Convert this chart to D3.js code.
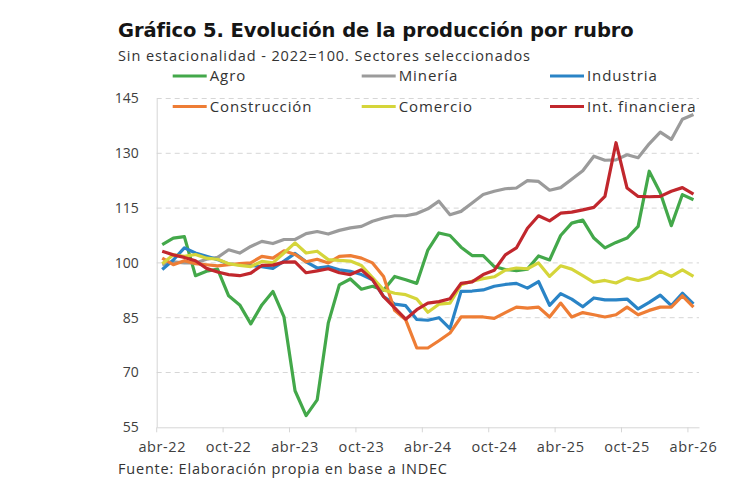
<!DOCTYPE html>
<html>
<head>
<meta charset="utf-8">
<script src="https://cdn.jsdelivr.net/npm/d3@7"></script>
<title>Gráfico 5</title>
<style>
  body { margin: 0; background: #fff; }
  text { font-family: "Open Sans", "Noto Sans", sans-serif; }
</style>
</head>
<body>
<div id="container"></div>
<script>
// meses (abr-22 .. abr-26)
var months = [
  "abr-22","may-22","jun-22","jul-22","ago-22","sep-22","oct-22","nov-22","dic-22",
  "ene-23","feb-23","mar-23","abr-23","may-23","jun-23","jul-23","ago-23","sep-23",
  "oct-23","nov-23","dic-23","ene-24","feb-24","mar-24","abr-24","may-24","jun-24",
  "jul-24","ago-24","sep-24","oct-24","nov-24","dic-24","ene-25","feb-25","mar-25",
  "abr-25","may-25","jun-25","jul-25","ago-25","sep-25","oct-25","nov-25","dic-25",
  "ene-26","feb-26","mar-26","abr-26"
];
var xTickLabels = ["abr-22","oct-22","abr-23","oct-23","abr-24","oct-24","abr-25","oct-25","abr-26"];
var yTicks = [55, 70, 85, 100, 115, 130, 145];

// series
var agro = [105,106.8,107.2,96.5,97.7,98.3,91,88.5,83.3,88.5,92.2,85.2,65,58.2,62.5,83.5,94,95.6,92.8,93.6,
  92.5,96.3,95.4,94.4,103.5,108.2,107.5,104.3,102,102,99,98.2,97.9,98.3,101.9,100.8,107.5,110.9,111.7,106.8,
  104.1,105.6,106.8,110,125.1,119.2,110.2,118.7,117.3];
var mineria = [99.5,100.3,100,100,101,101.5,103.6,102.7,104.5,105.9,105.3,106.4,106.4,108,108.6,107.9,108.9,109.6,110,111.4,
  112.3,112.9,112.9,113.5,114.8,116.9,113.2,114.1,116.4,118.7,119.6,120.3,120.5,122.5,122.3,119.9,120.6,122.9,125.2,129.2,
  128.1,128.2,129.6,128.8,132.6,135.8,133.8,139.3,140.6];
var industria = [98.2,100.8,104.1,102.7,101.8,100.9,99.7,99.5,99.3,99,98.5,100.5,102.6,100.3,98.6,99,98.1,97.7,96.8,95.4,
  90.8,88.7,88.3,84.5,84.3,85,82,92.2,92.3,92.6,93.6,94.1,94.4,93.1,94.9,88.4,91.6,90.1,88,90.4,
  89.9,89.9,90.1,87.4,89.2,91.2,88.3,91.7,88.8];
var construccion = [101.3,99.5,100.6,99.8,99.5,99.2,99.5,99.8,100,101.8,101.3,103.3,102.3,100.3,101,100,101.8,102,101.3,100,
  96.3,87,84.4,76.7,76.7,78.7,80.8,85.2,85.2,85.2,84.8,86.4,87.9,87.6,87.9,85.2,89,85.2,86.4,85.8,
  85.2,85.8,87.9,85.8,87,87.9,87.9,91,87.9];
var comercio = [99.8,102.2,101.8,102.3,101.3,101,99.8,99.3,99,100.4,100,102.7,105.5,102.7,103.2,100.9,100.7,100.5,99.3,96,
  92.6,91.7,91.3,90.1,86.5,88.7,89,94,95,95.7,96.2,98,98.6,98.4,100,96.3,99.2,98.3,96.5,94.7,
  95.2,94.5,95.9,95.2,95.9,97.7,96.3,98.1,96.3];
var intFinanciera = [103.2,102.2,101.5,100.6,98.5,97.5,96.8,96.5,97.2,99.3,99.4,100.2,100.3,97.3,97.8,98.4,97.3,96.8,98.1,95.4,
  90.8,87.7,84.6,87.2,89,89.4,90.2,94.4,94.8,96.8,98,102.2,104.1,109.5,112.9,111.5,113.6,113.9,114.5,115.2,
  118.2,132.9,120.5,118.2,118.1,118.2,119.6,120.6,118.8];

var names = ["Agro","Minería","Industria","Construcción","Comercio","Int. financiera"];
var colors = ["#43a84a","#9b9b9b","#2a84c6","#ee7d35","#d5d53a","#c1272d"];
var values = [agro, mineria, industria, construccion, comercio, intFinanciera];

var svg_width = 730, svg_height = 500,
    plot = {left: 156.7, right: 699, top: 98.5, bottom: 427.3};

var svg = d3.select("#container").append("svg")
  .attr("width", svg_width).attr("height", svg_height)
  .style("display", "block");

// estira el texto con letter-spacing hasta el ancho buscado
function fitWidth(sel, w) {
  sel.each(function() {
    var len = this.getComputedTextLength();
    var n = this.textContent.length;
    if (n > 1) d3.select(this).attr("letter-spacing", (w - len) / (n - 1));
  });
}

var scale_x = d3.scaleBand().domain(months).range([plot.left, plot.right]).padding(0);
var scale_y = d3.scaleLinear().domain([55, 145]).range([plot.bottom, plot.top]);
var half = scale_x.bandwidth() / 2;

// grilla horizontal
svg.append("g").selectAll("line")
  .data(yTicks.filter(function(v){ return v > 55; }))
  .enter().append("line")
  .attr("x1", plot.left).attr("x2", plot.right)
  .attr("y1", function(d){ return scale_y(d); })
  .attr("y2", function(d){ return scale_y(d); })
  .attr("stroke", "#d6d6d6").attr("stroke-width", 1)
  .attr("stroke-dasharray", "5,4");

// eje y
var axis_y = d3.axisLeft(scale_y).tickValues(yTicks).tickSize(0).tickSizeOuter(0).tickPadding(18);
var gy = svg.append("g").attr("transform", "translate(" + plot.left + ",0)").call(axis_y);
gy.select(".domain").attr("stroke", "#d6d6d6");
gy.selectAll("text").attr("font-size", 14).attr("fill", "#404040")
  .style("font-family", "'Open Sans', sans-serif");

// eje x
var axis_x = d3.axisBottom(scale_x).tickValues(xTickLabels).tickSize(0).tickSizeOuter(0).tickPadding(14);
var gx = svg.append("g").attr("transform", "translate(0," + plot.bottom + ")").call(axis_x);
gx.select(".domain").attr("stroke", "#d6d6d6");
gx.selectAll("text").attr("font-size", 14.5).attr("fill", "#404040")
  .attr("letter-spacing", 0.6)
  .style("font-family", "'Open Sans', sans-serif");
// marcas entre categorias
svg.append("g").selectAll("line")
  .data(xTickLabels)
  .enter().append("line")
  .attr("x1", function(d){ return scale_x(d); })
  .attr("x2", function(d){ return scale_x(d); })
  .attr("y1", plot.bottom).attr("y2", plot.bottom + 5)
  .attr("stroke", "#d6d6d6");

// lineas
var line = d3.line()
  .x(function(d, i){ return scale_x(months[i]) + half; })
  .y(function(d){ return scale_y(d); });

svg.append("g").selectAll("path")
  .data(values)
  .enter().append("path")
  .attr("d", line)
  .attr("fill", "none")
  .attr("stroke", function(d, i){ return colors[i]; })
  .attr("stroke-width", 3.2)
  .attr("stroke-linejoin", "round");

// leyenda
var legendX = [172.7, 361.7, 550], legendY = [76, 106.5];
var leg = svg.append("g").selectAll("g")
  .data(names)
  .enter().append("g")
  .attr("transform", function(d, i){ return "translate(" + legendX[i % 3] + "," + legendY[Math.floor(i / 3)] + ")"; });
leg.append("line").attr("x1", 0).attr("x2", 34)
  .attr("stroke", function(d, i){ return colors[i]; }).attr("stroke-width", 3);
leg.append("text").attr("x", 37).attr("dy", "0.36em")
  .attr("font-size", 15).attr("fill", "#333").attr("letter-spacing", 0.9)
  .text(function(d){ return d; });

// titulos
var title = svg.append("text").attr("x", 118).attr("y", 37)
  .attr("font-size", 19.5).attr("font-weight", "bold").attr("fill", "#151515")
  .style("font-family", "'DejaVu Sans', sans-serif")
  .text("Gráfico 5. Evolución de la producción por rubro");
fitWidth(title, 515);
var sub = svg.append("text").attr("x", 118).attr("y", 61)
  .attr("font-size", 14.5).attr("fill", "#333")
  .text("Sin estacionalidad - 2022=100. Sectores seleccionados");
fitWidth(sub, 412);
var src = svg.append("text").attr("x", 118).attr("y", 474)
  .attr("font-size", 14.5).attr("fill", "#333")
  .text("Fuente: Elaboración propia en base a INDEC");
fitWidth(src, 329);
</script>
</body>
</html>
